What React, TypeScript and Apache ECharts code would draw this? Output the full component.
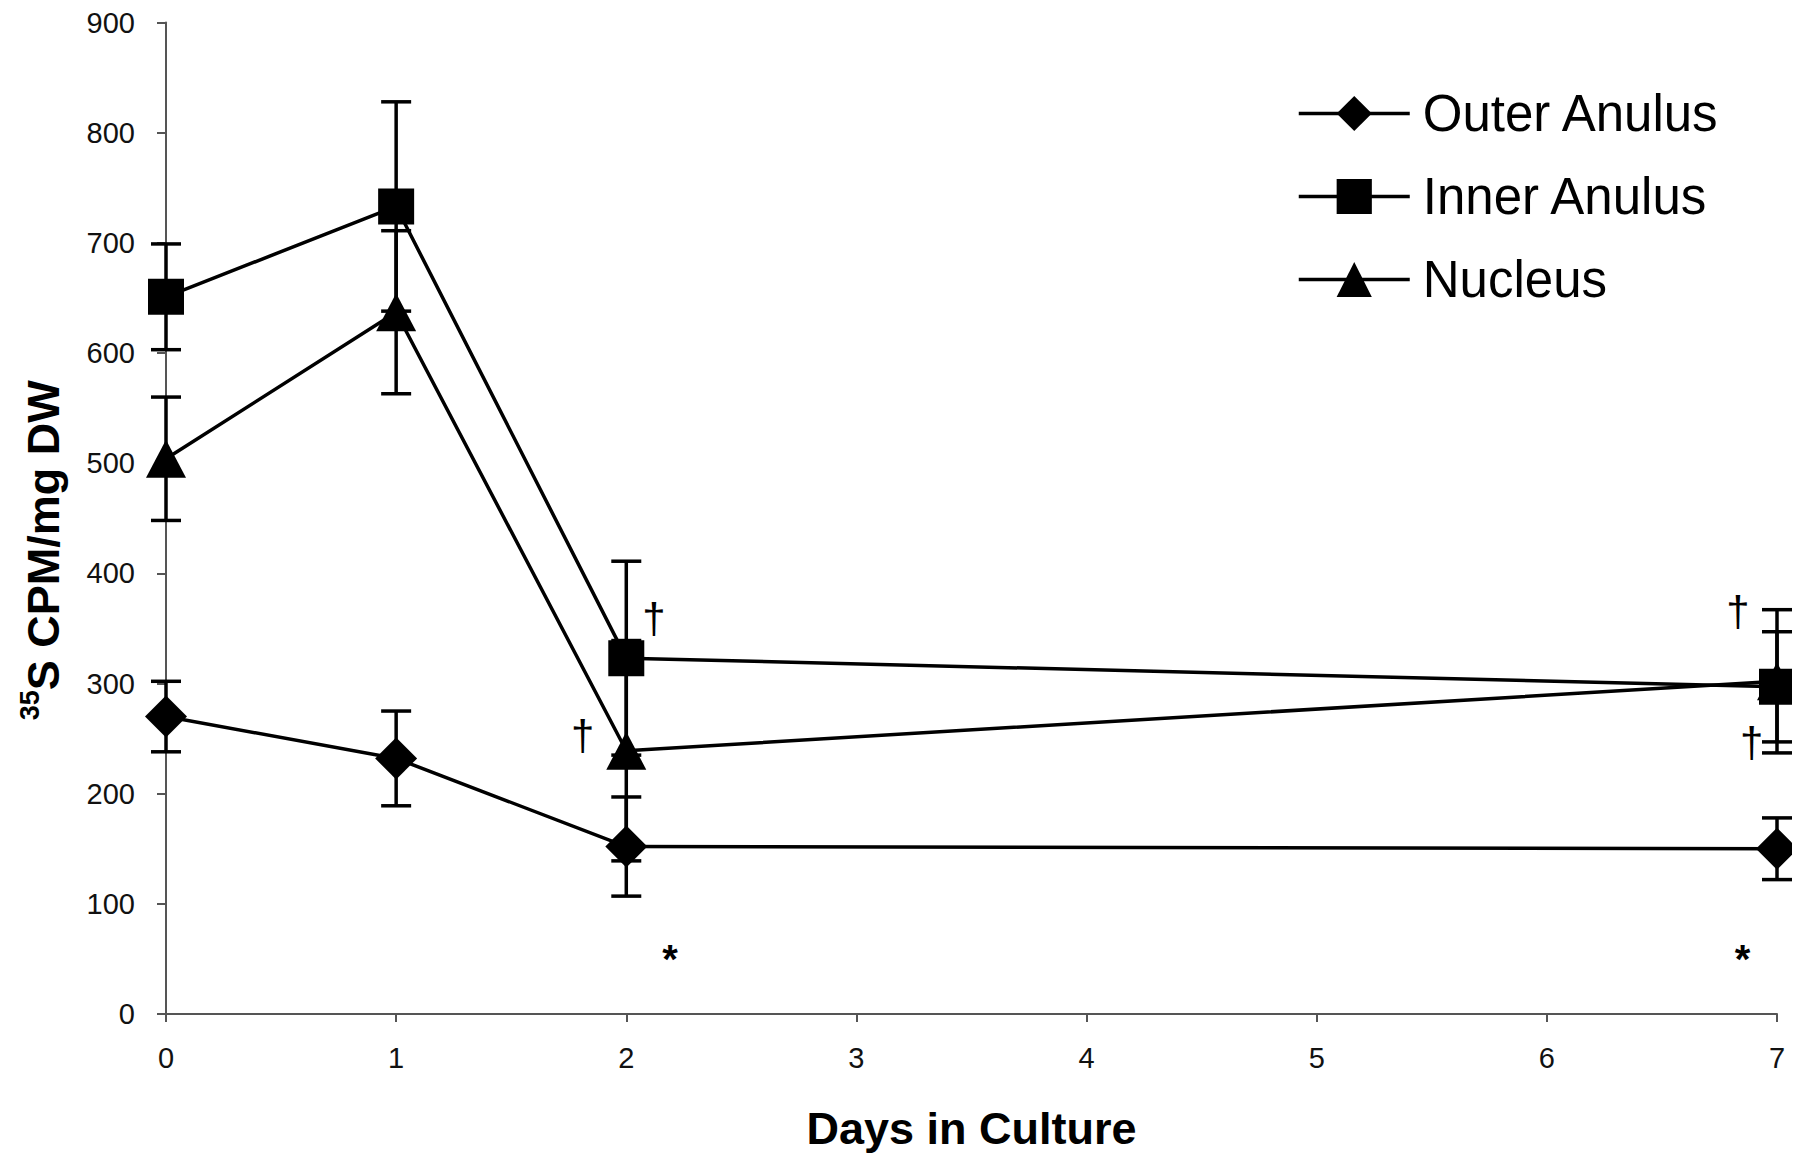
import React, { useEffect, useRef } from "react";
import * as echarts from "echarts";

const days = [0, 1, 2, 7];
const xTicks = [0, 1, 2, 3, 4, 5, 6, 7];
const seriesNames = ["Outer Anulus", "Inner Anulus", "Nucleus"];

const outer = [270, 232, 152, 150];
const outerErr = [32, 43, 45, 28];
const inner = [651, 733, 323, 297];
const innerErr = [48, 95, 88, 50];
const nucleus = [504, 637, 239, 302];
const nucleusErr = [56, 74, 100, 65];

const annoX = [2.12, 1.81, 2.19, 6.83, 6.89, 6.85];
const annoY = [359, 253, 50, 365, 246, 50];
const annoText = ["\u2020", "\u2020", "*", "\u2020", "\u2020", "*"];

const FONT = "'Liberation Sans', Arial, Helvetica, sans-serif";

export default function App() {
  const ref = useRef<HTMLDivElement>(null);

  useEffect(() => {
    if (!ref.current) return;
    const chart = echarts.init(ref.current, null, { renderer: "svg" });

    const values = [outer, inner, nucleus];
    const errs = [outerErr, innerErr, nucleusErr];
    const symbols = ["diamond", "rect", "triangle"];
    const sizes: any[] = [42, 36, [40, 38]];

    const lineSeries = seriesNames.map((name, k) => ({
      name,
      type: "line",
      data: days.map((d, i) => [d, values[k][i]]),
      symbol: symbols[k],
      symbolSize: sizes[k],
      showAllSymbol: true,
      itemStyle: { color: "#000" },
      lineStyle: { color: "#000", width: 3.5 },
      z: 3,
    }));

    const errSeries = seriesNames.map((name, k) => ({
      name: name + " error",
      type: "custom",
      data: days.map((d, i) => [d, values[k][i], errs[k][i]]),
      encode: { x: 0, y: 1 },
      z: 2,
      renderItem: (params: any, api: any) => {
        const x = api.value(0);
        const v = api.value(1);
        const e = api.value(2);
        const top = api.coord([x, v + e]);
        const bot = api.coord([x, v - e]);
        const w = 15;
        const st = { stroke: "#000", lineWidth: 3.5 };
        return {
          type: "group",
          children: [
            { type: "line", shape: { x1: top[0], y1: top[1], x2: bot[0], y2: bot[1] }, style: st },
            { type: "line", shape: { x1: top[0] - w, y1: top[1], x2: top[0] + w, y2: top[1] }, style: st },
            { type: "line", shape: { x1: bot[0] - w, y1: bot[1], x2: bot[0] + w, y2: bot[1] }, style: st },
          ],
        };
      },
    }));

    const annoSeries = {
      name: "annotations",
      type: "custom",
      data: annoX.map((x, i) => [x, annoY[i], i]),
      encode: { x: 0, y: 1 },
      z: 4,
      renderItem: (params: any, api: any) => {
        const p = api.coord([api.value(0), api.value(1)]);
        const t = annoText[api.value(2)];
        return {
          type: "text",
          x: p[0],
          y: p[1],
          style: {
            text: t,
            fontFamily: FONT,
            fontSize: t === "*" ? 40 : 42,
            fontWeight: t === "*" ? "bold" : "normal",
            fill: "#000",
            align: "center",
            verticalAlign: "middle",
          },
        };
      },
    };

    chart.setOption({
      animation: false,
      backgroundColor: "#fff",
      textStyle: { fontFamily: FONT },
      grid: { left: 143, right: 23, top: 4.5, bottom: 142, containLabel: false },
      legend: {
        data: seriesNames,
        orient: "vertical",
        left: 1289,
        top: 80,
        itemWidth: 111,
        itemHeight: 44,
        itemGap: 32,
        padding: 0,
        lineStyle: { width: 3.5, color: "#000" },
        textStyle: { fontSize: 51, color: "#000", fontFamily: FONT, padding: [0, 0, 0, 8] },
        selectedMode: false,
      },
      xAxis: {
        type: "value",
        min: xTicks[0],
        max: xTicks[xTicks.length - 1],
        interval: 1,
        name: "Days in Culture",
        nameLocation: "middle",
        nameGap: 92,
        nameTextStyle: { fontSize: 45, fontWeight: "bold", color: "#000", fontFamily: FONT },
        axisLine: { lineStyle: { color: "#555", width: 2 } },
        axisTick: { show: true, inside: false, length: 8, lineStyle: { color: "#555", width: 2 } },
        axisLabel: { fontSize: 29, color: "#111", margin: 29, fontFamily: FONT },
        splitLine: { show: false },
      },
      yAxis: {
        type: "value",
        min: 0,
        max: 900,
        interval: 100,
        name: "{sup|35}{main|S CPM/mg DW}",
        nameLocation: "middle",
        nameGap: 100,
        nameRotate: 90,
        nameTextStyle: {
          color: "#000",
          fontFamily: FONT,
          fontWeight: "bold",
          padding: [0, 64, 0, 0],
          rich: {
            sup: { fontSize: 27, fontWeight: "bold", verticalAlign: "top", lineHeight: 50, fontFamily: FONT, color: "#000" },
            main: { fontSize: 45, fontWeight: "bold", verticalAlign: "bottom", lineHeight: 50, fontFamily: FONT, color: "#000" },
          },
        },
        axisLine: { show: true, lineStyle: { color: "#555", width: 2 } },
        axisTick: { show: true, inside: false, length: 9, lineStyle: { color: "#555", width: 2 } },
        axisLabel: { fontSize: 29, color: "#111", margin: 31, fontFamily: FONT },
        splitLine: { show: false },
      },
      series: [...errSeries, ...lineSeries, annoSeries],
    });

    return () => chart.dispose();
  }, []);

  return <div ref={ref} style={{ width: 1792, height: 1148 }} />;
}
